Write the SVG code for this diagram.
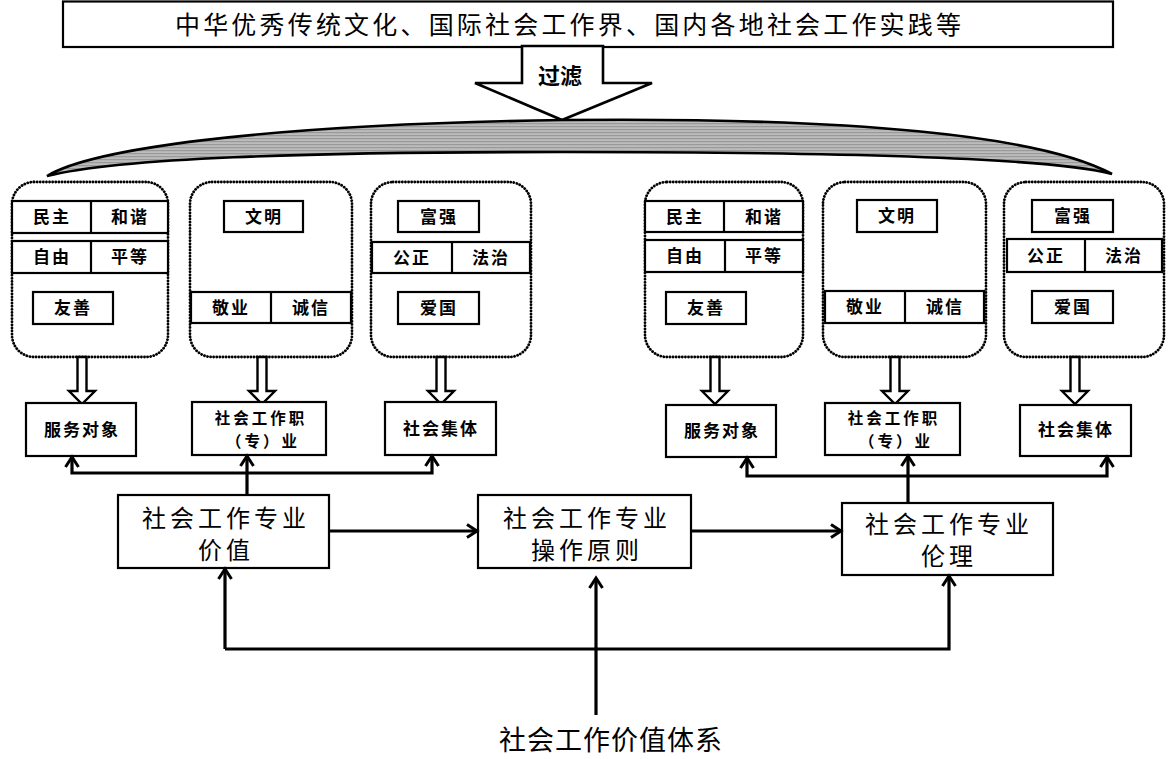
<svg xmlns="http://www.w3.org/2000/svg" width="1170" height="759" viewBox="0 0 1170 759">
<defs>
<style>
text{font-family:"Noto Sans CJK SC","Noto Sans",sans-serif;fill:#000}
.box{fill:#fff;stroke:#000;stroke-width:2.2}
.dot{fill:none;stroke:#000;stroke-width:2.8;stroke-dasharray:0.1 3;stroke-linecap:round}
.conn{fill:none;stroke:#000;stroke-width:3.2}
.dv{stroke:#000;stroke-width:2.2}
.lbl{font-size:17px;font-weight:bold;letter-spacing:2px;text-anchor:middle}
.tgt{font-size:17px;font-weight:bold;letter-spacing:2px;text-anchor:middle}
.tgt2{font-size:15.5px;font-weight:bold;letter-spacing:3px;text-anchor:middle}
.big{font-size:24px;letter-spacing:4px;text-anchor:middle}
.harrow{fill:#fff;stroke:#000;stroke-width:2.4}
</style>
<marker id="ah" markerWidth="14" markerHeight="16" refX="11" refY="8" orient="auto" markerUnits="userSpaceOnUse">
<path d="M1,1.5 L11,8 L1,14.5" fill="none" stroke="#000" stroke-width="3"/>
</marker>
<pattern id="stripes" width="8" height="3" patternUnits="userSpaceOnUse">
<rect width="8" height="3" fill="#bcbcbc"/>
<rect width="8" height="1.2" fill="#999"/>
</pattern>
</defs>
<rect width="1170" height="759" fill="#fff"/>

<g id="source">
<rect class="box" x="63" y="1.5" width="1050" height="45.5"/>
<text x="175" y="34" font-size="25" textLength="786" lengthAdjust="spacing">中华优秀传统文化、国际社会工作界、国内各地社会工作实践等</text>
</g>

<g id="filter">
<polygon points="522,46 603,46 603,83 652,83 562,120 475,83 522,83" fill="#fff" stroke="#000" stroke-width="2.6"/>
<text x="560" y="84" font-size="22" font-weight="bold" text-anchor="middle">过滤</text>
</g>

<g id="band">
<path d="M47,176 C90,150 250,125 562,120 C850,117 1040,135 1112,174 C1060,160 900,152 562,152 C300,152 120,158 47,176 Z" fill="url(#stripes)" stroke="#000" stroke-width="2.6"/>
</g>

<g id="group1">
<rect class="dot" x="12" y="182" width="156" height="175" rx="22"/>
<rect class="box" x="12" y="201" width="156" height="32"/><line class="dv" x1="91" y1="201" x2="91" y2="233"/>
<text class="lbl" x="52" y="223">民主</text><text class="lbl" x="130" y="223">和谐</text>
<rect class="box" x="12" y="241" width="156" height="32"/><line class="dv" x1="91" y1="241" x2="91" y2="273"/>
<text class="lbl" x="52" y="263">自由</text><text class="lbl" x="130" y="263">平等</text>
<rect class="box" x="33" y="292" width="80" height="32"/>
<text class="lbl" x="73" y="314">友善</text>
</g>

<g id="group2">
<rect class="dot" x="190" y="182" width="162" height="175" rx="22"/>
<rect class="box" x="224" y="201" width="79" height="31"/>
<text class="lbl" x="264" y="223">文明</text>
<rect class="box" x="191" y="292" width="160" height="31"/><line class="dv" x1="271" y1="292" x2="271" y2="323"/>
<text class="lbl" x="231" y="314">敬业</text><text class="lbl" x="311" y="314">诚信</text>
</g>

<g id="group3">
<rect class="dot" x="371" y="182" width="160" height="175" rx="22"/>
<rect class="box" x="398" y="201" width="81" height="31"/>
<text class="lbl" x="439" y="223">富强</text>
<rect class="box" x="372" y="242" width="158" height="31"/><line class="dv" x1="452" y1="242" x2="452" y2="273"/>
<text class="lbl" x="412" y="264">公正</text><text class="lbl" x="491" y="264">法治</text>
<rect class="box" x="398" y="292" width="81" height="32"/>
<text class="lbl" x="439" y="314">爱国</text>
</g>

<g id="group4">
<rect class="dot" x="645" y="182" width="158" height="175" rx="22"/>
<rect class="box" x="645" y="201" width="158" height="31"/><line class="dv" x1="724" y1="201" x2="724" y2="232"/>
<text class="lbl" x="685" y="223">民主</text><text class="lbl" x="764" y="223">和谐</text>
<rect class="box" x="645" y="240" width="158" height="32"/><line class="dv" x1="725" y1="240" x2="725" y2="272"/>
<text class="lbl" x="685" y="262">自由</text><text class="lbl" x="764" y="262">平等</text>
<rect class="box" x="666" y="292" width="80" height="32"/>
<text class="lbl" x="706" y="314">友善</text>
</g>

<g id="group5">
<rect class="dot" x="823" y="182" width="163" height="175" rx="22"/>
<rect class="box" x="857" y="200" width="80" height="32"/>
<text class="lbl" x="897" y="222">文明</text>
<rect class="box" x="825" y="291" width="159" height="32"/><line class="dv" x1="905" y1="291" x2="905" y2="323"/>
<text class="lbl" x="865" y="313">敬业</text><text class="lbl" x="945" y="313">诚信</text>
</g>

<g id="group6">
<rect class="dot" x="1004" y="182" width="160" height="175" rx="22"/>
<rect class="box" x="1032" y="200" width="81" height="32"/>
<text class="lbl" x="1073" y="222">富强</text>
<rect class="box" x="1007" y="239" width="155" height="33"/><line class="dv" x1="1085" y1="239" x2="1085" y2="272"/>
<text class="lbl" x="1046" y="262">公正</text><text class="lbl" x="1124" y="262">法治</text>
<rect class="box" x="1032" y="291" width="81" height="32"/>
<text class="lbl" x="1073" y="313">爱国</text>
</g>

<g id="hollow-arrows">
<polygon class="harrow" points="77.5,357 86.5,357 86.5,391 95,391 82,404 69,391 77.5,391"/>
<polygon class="harrow" points="257.5,357 266.5,357 266.5,391 275,391 262,404 249,391 257.5,391"/>
<polygon class="harrow" points="436.5,357 445.5,357 445.5,391 454,391 441,404 428,391 436.5,391"/>
<polygon class="harrow" points="710.5,357 719.5,357 719.5,391 728,391 715,404 702,391 710.5,391"/>
<polygon class="harrow" points="890.5,357 899.5,357 899.5,391 908,391 895,404 882,391 890.5,391"/>
<polygon class="harrow" points="1070.5,357 1079.5,357 1079.5,391 1088,391 1075,404 1062,391 1070.5,391"/>
</g>

<g id="client-l">
<rect class="box" x="26" y="403" width="110" height="53"/>
<text class="tgt" x="82" y="436">服务对象</text>
</g>
<g id="profession-l">
<rect class="box" x="192" y="402" width="134" height="53"/>
<text class="tgt2" x="261" y="424">社会工作职</text>
<text class="tgt2" x="263" y="447">（专）业</text>
</g>
<g id="collective-l">
<rect class="box" x="385" y="402" width="111" height="53"/>
<text class="tgt" x="441" y="435">社会集体</text>
</g>
<g id="client-r">
<rect class="box" x="666" y="405" width="110" height="52"/>
<text class="tgt" x="722" y="437">服务对象</text>
</g>
<g id="profession-r">
<rect class="box" x="825" y="403" width="135" height="52"/>
<text class="tgt2" x="894" y="424">社会工作职</text>
<text class="tgt2" x="896" y="447">（专）业</text>
</g>
<g id="collective-r">
<rect class="box" x="1020" y="405" width="111" height="51"/>
<text class="tgt" x="1076" y="436">社会集体</text>
</g>

<g id="value">
<rect class="box" x="118" y="495" width="211" height="73"/>
<text class="big" x="226" y="527">社会工作专业</text>
<text class="big" x="226" y="559">价值</text>
</g>
<g id="principle">
<rect class="box" x="478" y="495" width="213" height="73"/>
<text class="big" x="587" y="527">社会工作专业</text>
<text class="big" x="587" y="559">操作原则</text>
</g>
<g id="ethics">
<rect class="box" x="842" y="503" width="211" height="72"/>
<text class="big" x="949" y="533">社会工作专业</text>
<text class="big" x="949" y="565">伦理</text>
</g>

<g id="system">
<text x="611" y="750" font-size="27" letter-spacing="1" text-anchor="middle">社会工作价值体系</text>
</g>

<g id="connectors">
<path class="conn" d="M247,495 V456" marker-end="url(#ah)"/>
<path class="conn" d="M247,473 H72 V457" marker-end="url(#ah)"/>
<path class="conn" d="M247,473 H432 V456" marker-end="url(#ah)"/>
<path class="conn" d="M908,503 V456" marker-end="url(#ah)"/>
<path class="conn" d="M908,476 H747 V458" marker-end="url(#ah)"/>
<path class="conn" d="M908,476 H1107 V457" marker-end="url(#ah)"/>
<path class="conn" d="M329,531 H477" marker-end="url(#ah)"/>
<path class="conn" d="M691,531 H841" marker-end="url(#ah)"/>
<path class="conn" d="M225,649 V569" marker-end="url(#ah)"/>
<path class="conn" d="M225,649 H949 V576" marker-end="url(#ah)"/>
<path class="conn" d="M596,715 V578" marker-end="url(#ah)"/>
</g>
</svg>
